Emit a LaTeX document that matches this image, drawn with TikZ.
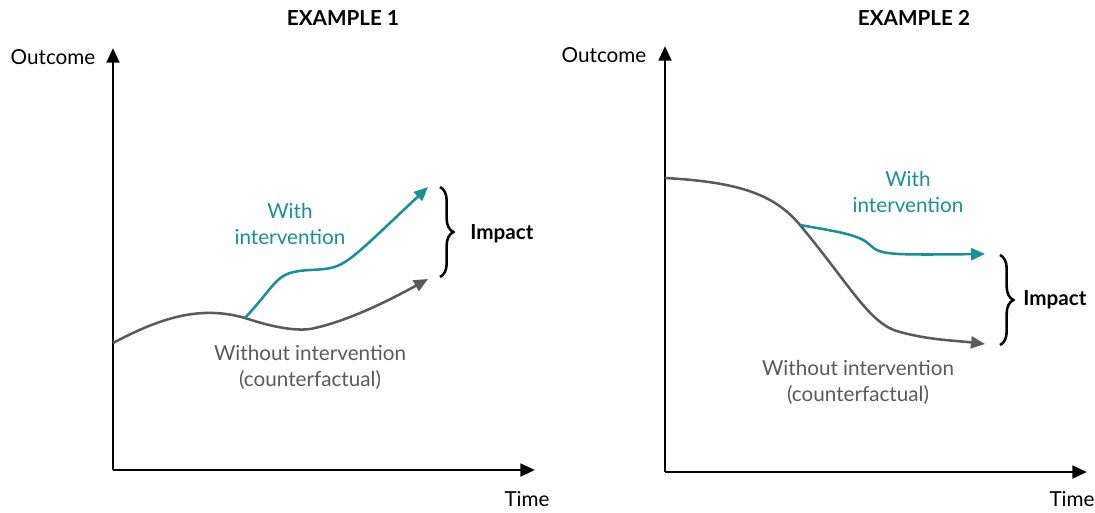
\documentclass[tikz,border=0pt]{standalone}
\usepackage{fontspec}
\setmainfont{Lato}
\usetikzlibrary{arrows.meta,decorations.pathreplacing}

\definecolor{tealline}{RGB}{22,145,153}
\definecolor{greyline}{RGB}{90,90,90}

\tikzstyle{axis}=[draw,line width=2.1pt,-{Triangle[length=11pt,width=9.5pt]}]
\tikzstyle{curve}=[draw,line width=1.9pt,-{Triangle[length=10.5pt,width=9pt]}]
\tikzstyle{label}=[font=\fontsize{15.5}{19.5}\selectfont,align=center,inner sep=0pt]
\tikzstyle{title}=[font=\fontsize{15.5}{19.5}\selectfont\bfseries,inner sep=0pt]
\tikzstyle{impact}=[draw,line width=1.9pt,decorate,decoration={brace,amplitude=10pt}]

\begin{document}
\begin{tikzpicture}[x=0.75pt,y=-0.75pt]
    \useasboundingbox (0,0) rectangle (1095,512);

    % Example 1: axes and titles
    \node[title] (title1) at (343,18) {EXAMPLE 1};
    \coordinate (o1) at (113,470);
    \coordinate (ytop1) at (113,48);
    \coordinate (xend1) at (535,470);
    \path[axis] (o1) -- (ytop1);
    \path[axis] (o1) -- (xend1);
    \node[label] (outcome1) at (53,57) {Outcome};
    \node[label] (time1) at (527,499) {Time};

    % the counterfactual and the intervention
    \coordinate (g1start) at (113,343);
    \coordinate (split1) at (245,318);
    \coordinate (g1end) at (428,279);
    \coordinate (t1end) at (428,187);
    \path[curve,greyline] (g1start) .. controls (160,318) and (200,305) .. (split1)
        .. controls (275,328) and (300,332) .. (315,328)
        .. controls (350,320) and (390,300) .. (g1end);
    \path[curve,tealline] (split1) .. controls (280,280) and (275,272) .. (310,270)
        .. controls (345,268) and (340,270) .. (t1end);
    \node[label,tealline] (with1) at (290,224) {With\\intervention};
    \node[label,greyline] (without1) at (310,367) {Without intervention\\(counterfactual)};

    % brace for the impact
    \coordinate (b1top) at (440,187);
    \coordinate (b1bot) at (440,277);
    \path[impact] (b1top) -- (b1bot);
    \node[title] (impact1) at (502,234) {Impact};

    % Example 2: axes and titles
    \node[title] (title2) at (914,18) {EXAMPLE 2};
    \coordinate (o2) at (665,472);
    \coordinate (ytop2) at (665,46);
    \coordinate (xend2) at (1087,472);
    \path[axis] (o2) -- (ytop2);
    \path[axis] (o2) -- (xend2);
    \node[label] (outcome2) at (604,55) {Outcome};
    \node[label] (time2) at (1072,499) {Time};

    % the counterfactual and the intervention
    \coordinate (g2start) at (665,178);
    \coordinate (split2) at (800,225);
    \coordinate (g2end) at (985,344);
    \coordinate (t2end) at (985,254);
    \path[curve,greyline] (g2start) .. controls (740,182) and (775,195) .. (split2)
        .. controls (850,285) and (870,325) .. (900,332)
        .. controls (930,340) and (950,340) .. (g2end);
    \path[curve,tealline] (split2) .. controls (840,232) and (860,235) .. (870,245)
        .. controls (880,255) and (890,255) .. (t2end);
    \node[label,tealline] (with2) at (908,192) {With\\intervention};
    \node[label,greyline] (without2) at (858,382) {Without intervention\\(counterfactual)};

    % brace for the impact
    \coordinate (b2top) at (1000,255);
    \coordinate (b2bot) at (1000,345);
    \path[impact] (b2top) -- (b2bot);
    \node[title] (impact2) at (1055,300) {Impact};
\end{tikzpicture}
\end{document}
